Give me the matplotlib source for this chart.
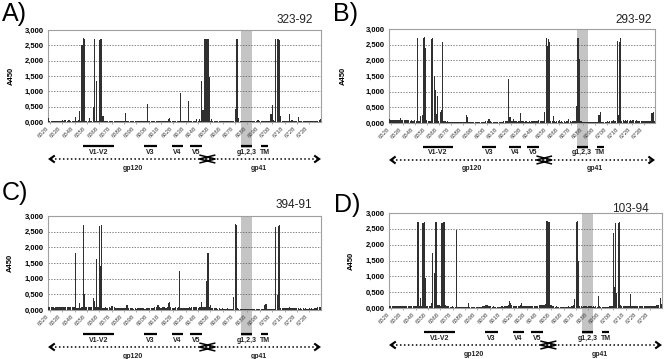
import numpy as np
import matplotlib.pyplot as plt
from matplotlib import transforms

plt.rcParams['font.family'] = ['Liberation Sans', 'DejaVu Sans']

# peptide numbers, one bar each (6527 ... 6747)
peptides = np.arange(6527, 6748)

tick_peptides = [6528, 6538, 6548, 6558, 6568, 6578, 6588, 6598, 6608, 6618, 6628,
                 6638, 6648, 6658, 6668, 6678, 6688, 6698, 6708, 6718, 6728, 6738]
y_ticks = [0.0, 0.5, 1.0, 1.5, 2.0, 2.5, 3.0]
y_tick_labels = ['0,000', '0,500', '1,000', '1,500', '2,000', '2,500', '3,000']

# A450 per peptide, rows of ten starting at 6527
a450_323_92 = [
    0.12, 0.04, 0.03, 0.03, 0.04, 0.03, 0.03, 0.04, 0.04, 0.03,
    0.04, 0.05, 0.04, 0.05, 0.05, 0.04, 0.05, 0.05, 0.04, 0.03,
    0.03, 0.04, 0.17, 0.04, 0.05, 0.37, 0.03, 2.50, 2.75, 2.72,
    0.03, 0.02, 0.03, 0.13, 0.03, 0.02, 0.50, 2.72, 0.04, 1.33,
    0.03, 2.68, 2.72, 2.72, 0.20, 0.03, 0.03, 0.02, 0.03, 0.03,
    0.02, 0.03, 0.03, 0.02, 0.02, 0.03, 0.02, 0.02, 0.03, 0.02,
    0.02, 0.03, 0.30, 0.04, 0.02, 0.02, 0.03, 0.02, 0.02, 0.02,
    0.03, 0.02, 0.02, 0.02, 0.03, 0.02, 0.02, 0.03, 0.02, 0.03,
    0.58, 0.03, 0.02, 0.02, 0.02, 0.03, 0.02, 0.02, 0.02, 0.03,
    0.02, 0.02, 0.03, 0.02, 0.02, 0.03, 0.04, 0.10, 0.12, 0.03,
    0.03, 0.02, 0.03, 0.03, 0.02, 0.03, 0.04, 0.95, 0.03, 0.03,
    0.02, 0.04, 0.03, 0.70, 0.03, 0.03, 0.02, 0.03, 0.04, 0.03,
    0.10, 0.03, 0.10, 0.03, 1.35, 0.40, 2.72, 2.72, 2.71, 2.70,
    1.48, 0.04, 0.10, 0.03, 0.03, 0.02, 0.03, 0.02, 0.02, 0.03,
    0.02, 0.02, 0.03, 0.03, 0.02, 0.02, 0.03, 0.02, 0.03, 0.02,
    0.03, 0.42, 2.72, 2.72, 0.13, 0.02, 0.02, 0.02, 0.02, 0.02,
    0.02, 0.02, 0.02, 0.02, 0.03, 0.02, 0.02, 0.03, 0.02, 0.07,
    0.06, 0.02, 0.02, 0.02, 0.03, 0.02, 0.02, 0.03, 0.02, 0.03,
    0.25, 0.55, 0.07, 0.04, 2.72, 2.72, 2.70, 2.68, 0.20, 0.03,
    0.03, 0.02, 0.03, 0.02, 0.03, 0.27, 0.03, 0.08, 0.03, 0.02,
    0.03, 0.03, 0.17, 0.03, 0.02, 0.03, 0.02, 0.02, 0.03, 0.03,
    0.02, 0.03, 0.02, 0.03, 0.02, 0.02, 0.03, 0.03, 0.03, 0.08,
    0.10,
]

a450_293_92 = [
    0.12, 0.10, 0.08, 0.09, 0.08, 0.08, 0.09, 0.08, 0.09, 0.15,
    0.10, 0.09, 0.08, 0.08, 0.09, 0.08, 0.08, 0.07, 0.08, 0.07,
    0.07, 0.08, 0.07, 2.72, 0.06, 0.07, 0.22, 0.25, 2.72, 2.75,
    2.40, 0.08, 0.06, 0.07, 0.06, 2.68, 2.72, 1.50, 1.05, 0.30,
    0.85, 0.05, 0.35, 0.43, 2.60, 0.07, 0.05, 0.04, 0.05, 0.04,
    0.04, 0.03, 0.04, 0.04, 0.03, 0.04, 0.03, 0.04, 0.03, 0.04,
    0.03, 0.04, 0.03, 0.04, 0.27, 0.20, 0.04, 0.03, 0.03, 0.04,
    0.03, 0.03, 0.04, 0.03, 0.03, 0.04, 0.03, 0.03, 0.04, 0.04,
    0.05, 0.06, 0.13, 0.12, 0.05, 0.04, 0.03, 0.04, 0.03, 0.04,
    0.03, 0.04, 0.04, 0.03, 0.04, 0.05, 0.05, 0.06, 0.07, 1.40,
    0.20, 0.06, 0.05, 0.13, 0.06, 0.05, 0.04, 0.05, 0.06, 0.33,
    0.06, 0.05, 0.04, 0.07, 0.05, 0.04, 0.05, 0.04, 0.05, 0.06,
    0.05, 0.06, 0.07, 0.06, 0.10, 0.06, 0.05, 0.06, 0.07, 0.35,
    2.72, 2.45, 2.68, 2.60, 0.06, 0.05, 0.22, 0.05, 0.04, 0.05,
    0.05, 0.10, 0.04, 0.05, 0.04, 0.05, 0.04, 0.05, 0.06, 0.12,
    0.05, 0.04, 0.05, 0.06, 0.07, 0.55, 2.72, 2.72, 2.05, 0.05,
    0.04, 0.03, 0.03, 0.04, 0.03, 0.03, 0.04, 0.03, 0.03, 0.04,
    0.03, 0.03, 0.04, 0.03, 0.27, 0.35, 0.04, 0.03, 0.04, 0.03,
    0.04, 0.05, 0.04, 0.05, 0.06, 0.05, 0.10, 0.06, 0.07, 2.62,
    0.25, 2.58, 2.70, 0.07, 0.08, 0.07, 0.08, 0.07, 0.08, 0.07,
    0.08, 0.07, 0.08, 0.10, 0.07, 0.08, 0.07, 0.06, 0.07, 0.06,
    0.06, 0.07, 0.06, 0.06, 0.07, 0.06, 0.06, 0.07, 0.33, 0.35,
    0.06,
]

a450_394_91 = [
    0.08, 0.09, 0.10, 0.08, 0.09, 0.07, 0.10, 0.09, 0.08, 0.09,
    0.10, 0.08, 0.09, 0.10, 0.09, 0.11, 0.09, 0.08, 0.10, 0.09,
    0.08, 0.09, 1.83, 0.07, 0.06, 0.23, 0.07, 0.08, 2.72, 0.50,
    0.09, 0.08, 0.10, 0.09, 0.08, 0.10, 0.38, 0.28, 0.08, 1.63,
    0.10, 2.67, 1.42, 2.72, 0.07, 0.06, 0.08, 0.07, 0.06, 0.08,
    0.07, 0.12, 0.12, 0.08, 0.07, 0.06, 0.05, 0.06, 0.05, 0.06,
    0.05, 0.06, 0.05, 0.15, 0.15, 0.06, 0.05, 0.06, 0.05, 0.04,
    0.05, 0.04, 0.05, 0.06, 0.07, 0.05, 0.06, 0.05, 0.04, 0.05,
    0.05, 0.06, 0.05, 0.06, 0.07, 0.06, 0.08, 0.09, 0.15, 0.15,
    0.08, 0.07, 0.08, 0.09, 0.08, 0.07, 0.08, 0.22, 0.27, 0.08,
    0.07, 0.06, 0.07, 0.08, 0.07, 0.08, 1.25, 0.07, 0.06, 0.07,
    0.06, 0.07, 0.06, 0.07, 0.08, 0.07, 0.08, 0.09, 0.10, 0.09,
    0.08, 0.07, 0.08, 0.09, 0.27, 0.08, 0.10, 0.09, 0.93, 1.83,
    0.08, 0.15, 0.07, 0.06, 0.05, 0.06, 0.05, 0.04, 0.05, 0.04,
    0.04, 0.05, 0.04, 0.03, 0.04, 0.05, 0.04, 0.03, 0.04, 0.04,
    0.40, 2.75, 2.72, 0.06, 0.04, 0.03, 0.04, 0.03, 0.03, 0.04,
    0.03, 0.04, 0.03, 0.03, 0.04, 0.03, 0.03, 0.04, 0.03, 0.03,
    0.04, 0.03, 0.04, 0.03, 0.04, 0.15, 0.18, 0.04, 0.03, 0.04,
    0.03, 0.04, 0.03, 0.04, 2.65, 0.48, 2.67, 2.70, 0.06, 0.05,
    0.06, 0.05, 0.06, 0.07, 0.06, 0.10, 0.06, 0.05, 0.06, 0.05,
    0.05, 0.06, 0.05, 0.04, 0.05, 0.04, 0.05, 0.04, 0.05, 0.04,
    0.04, 0.05, 0.04, 0.05, 0.04, 0.05, 0.06, 0.07, 0.08, 0.10,
    0.08,
]

a450_103_94 = [
    0.06, 0.07, 0.06, 0.07, 0.06, 0.06, 0.07, 0.06, 0.07, 0.06,
    0.05, 0.06, 0.05, 0.05, 0.06, 0.05, 0.05, 0.06, 0.05, 0.05,
    0.05, 0.06, 0.05, 2.72, 0.05, 0.33, 0.06, 2.70, 2.72, 0.95,
    0.06, 0.05, 0.06, 0.07, 0.15, 1.75, 1.10, 2.72, 2.72, 0.10,
    0.08, 0.07, 2.70, 2.70, 2.72, 0.10, 0.07, 0.06, 0.05, 0.04,
    0.04, 0.05, 0.04, 0.03, 2.45, 0.04, 0.03, 0.04, 0.03, 0.04,
    0.03, 0.04, 0.03, 0.04, 0.15, 0.04, 0.03, 0.04, 0.03, 0.03,
    0.04, 0.03, 0.04, 0.03, 0.04, 0.05, 0.06, 0.07, 0.08, 0.10,
    0.07, 0.06, 0.05, 0.04, 0.05, 0.04, 0.03, 0.04, 0.03, 0.04,
    0.04, 0.05, 0.04, 0.05, 0.06, 0.07, 0.08, 0.23, 0.15, 0.08,
    0.07, 0.06, 0.05, 0.06, 0.07, 0.06, 0.08, 0.17, 0.07, 0.06,
    0.05, 0.06, 0.05, 0.06, 0.07, 0.06, 0.05, 0.06, 0.07, 0.06,
    0.07, 0.08, 0.10, 0.08, 0.09, 0.10, 0.12, 2.75, 2.75, 2.72,
    0.08, 0.10, 0.06, 0.05, 0.04, 0.05, 0.04, 0.03, 0.04, 0.03,
    0.04, 0.03, 0.04, 0.03, 0.04, 0.05, 0.04, 0.05, 0.06, 0.10,
    0.27, 2.72, 2.75, 1.50, 0.06, 0.05, 0.04, 0.05, 0.06, 0.05,
    0.04, 0.05, 0.06, 0.05, 0.04, 0.05, 0.04, 0.05, 0.04, 0.38,
    0.05, 0.04, 0.03, 0.04, 0.03, 0.04, 0.03, 0.04, 0.05, 0.06,
    0.07, 2.37, 0.65, 2.68, 0.48, 2.70, 2.72, 0.10, 0.07, 0.06,
    0.06, 0.05, 0.06, 0.07, 0.06, 0.45, 0.07, 0.06, 0.05, 0.06,
    0.05, 0.06, 0.05, 0.06, 0.05, 0.06, 0.05, 0.06, 0.05, 0.06,
    0.06, 0.05, 0.06, 0.07, 0.06, 0.07, 0.08, 0.09, 0.10, 0.33,
    0.12,
]

# env regions marked under the axis (peptide numbers)
region_names = ['V1-V2', 'V3', 'V4', 'V5', 'g1,2,3', 'TM']
region_start = [6554.5, 6604, 6626.5, 6641.5, 6682.5, 6699]
region_end = [6580, 6615, 6636, 6651.5, 6691.5, 6705]
shaded_region = 'g1,2,3'

domain_names = ['gp120', 'gp41']
domain_start = [6528, 6649]
domain_end = [6662, 6746]

panel_letters = ['A)', 'B)', 'C)', 'D)']
sample_names = ['323-92', '293-92', '394-91', '103-94']
panel_values = [a450_323_92, a450_293_92, a450_394_91, a450_103_94]

W, H = 664, 359
# axes boxes in pixels: left, top, right, bottom
axes_px = [(48, 30, 321, 122), (389, 29, 655, 123), (48, 216, 321, 310), (389, 213, 662, 308)]
letter_px = [(2, 21), (333, 21), (2, 200), (334, 212)]
sample_px = [(313, 23), (652, 23), (312, 208), (649, 212)]
ylabel_px = [15, 347, 14, 355]

BAR = '#303030'


def chevron(ax, tr, tip, y, direction, width, height, lw=1.5):
    xs = [tip - direction * width, tip, tip - direction * width]
    ys = [y + height, y, y - height]
    ax.plot(xs, ys, transform=tr, color='k', lw=lw, clip_on=False,
            solid_joinstyle='miter', solid_capstyle='butt')


fig = plt.figure(figsize=(W / 100, H / 100), dpi=100)

for k in range(4):
    l, t, r, b = axes_px[k]
    ax = fig.add_axes([l / W, 1 - b / H, (r - l) / W, (b - t) / H])
    ax.bar(peptides, panel_values[k], width=0.9, color=BAR, linewidth=0, zorder=3)
    ax.set_xlim(peptides[0] - 0.5, peptides[-1] + 0.5)
    ax.set_ylim(0, 3.0)

    ax.set_yticks(y_ticks)
    ax.set_yticklabels(y_tick_labels, fontsize=5.5, fontweight='bold')
    ax.set_xticks(tick_peptides)
    ax.set_xticklabels([str(p) for p in tick_peptides], rotation=45, ha='right',
                       fontsize=4.3, color='#444444')
    ax.tick_params(axis='y', length=0, pad=3)
    ax.tick_params(axis='x', length=1.5, width=0.5, color='#888888', pad=1)
    ax.grid(axis='y', color='#555555', lw=0.5, ls=(0, (2, 2)), zorder=1)
    for sp in ax.spines.values():
        sp.set_color('#a0a0a0')
        sp.set_linewidth(0.8)

    ax.set_ylabel('A450', fontsize=5.5, fontweight='bold')
    ax.yaxis.set_label_coords((ylabel_px[k] - l) / (r - l), 0.5)

    tr = transforms.blended_transform_factory(ax.transData, ax.transAxes)
    hpx = b - t

    # shaded band from top of plot down to the region bar
    j = region_names.index(shaded_region)
    ax.axvspan(region_start[j], region_end[j], ymin=-26 / hpx, ymax=1,
               color='#c4c4c4', lw=0, zorder=0.5, clip_on=False)

    for name, s, e in zip(region_names, region_start, region_end):
        ax.plot([s, e], [-24 / hpx, -24 / hpx], transform=tr, color='k', lw=1.6,
                clip_on=False, solid_capstyle='butt')
        ax.text((s + e) / 2, -30 / hpx, name, transform=tr, ha='center', va='center',
                fontsize=5, fontweight='bold', color='#222222')

    y_arr = -37 / hpx
    for name, s, e in zip(domain_names, domain_start, domain_end):
        ax.plot([s + 1, e - 1], [y_arr, y_arr], transform=tr, color='k', lw=1.1,
                ls=(0, (1, 1.6)), clip_on=False)
        ax.text((s + e) / 2, -46 / hpx, name, transform=tr, ha='center', va='center',
                fontsize=5, fontweight='bold', color='#222222')
    # arrow heads: open ends at both sides, crossing in the middle
    overlap = domain_end[0] - domain_start[1]
    chevron(ax, tr, domain_start[0], y_arr, -1, 4, 3.5 / hpx)
    chevron(ax, tr, domain_end[1], y_arr, 1, 4, 3.5 / hpx)
    chevron(ax, tr, domain_end[0], y_arr, 1, overlap, 4 / hpx, lw=1.1)
    chevron(ax, tr, domain_start[1], y_arr, -1, overlap, 4 / hpx, lw=1.1)

    lx, ly = letter_px[k]
    fig.text(lx / W, 1 - ly / H, panel_letters[k], fontsize=18, va='baseline', ha='left')
    sx, sy = sample_px[k]
    fig.text(sx / W, 1 - sy / H, sample_names[k], fontsize=8.5, va='baseline', ha='right',
             color='#222222')

fig.savefig('out.png', dpi=100)
